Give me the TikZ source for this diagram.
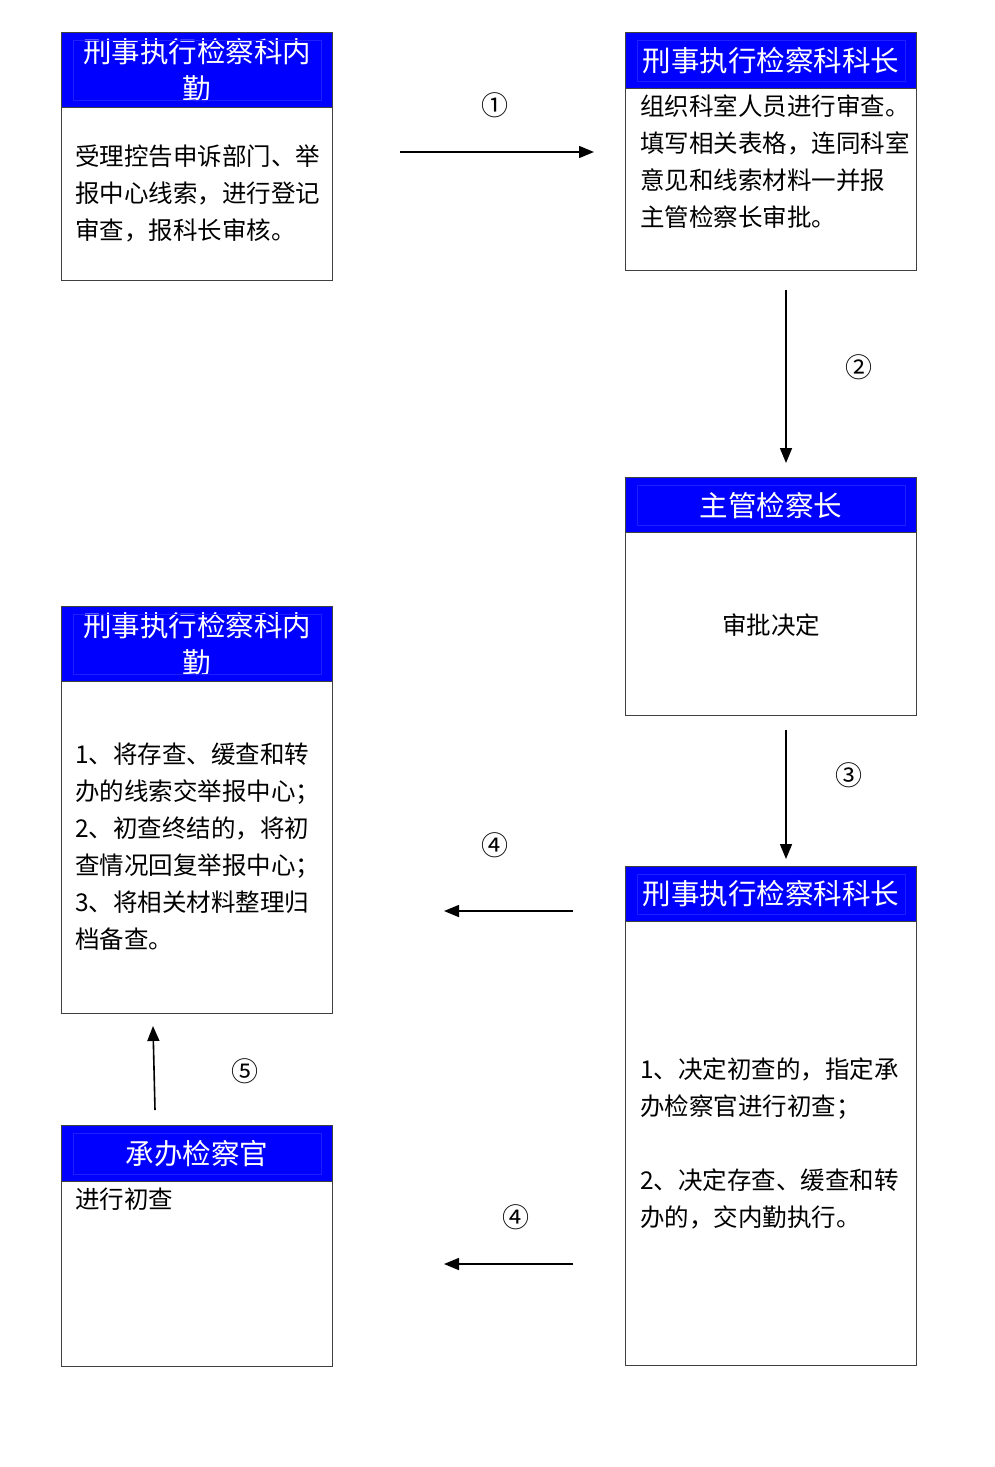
\documentclass[tikz,border=0pt]{standalone}
\usepackage{fontspec}
\setmainfont{Noto Sans CJK SC}
\usetikzlibrary{arrows.meta, positioning, calc}

\begin{document}
\begin{tikzpicture}[x=1pt, y=-1pt]
% Node styles
\tikzstyle{panel} = [rectangle, draw=black!75, line width=1.2pt, fill=white, anchor=north west, inner sep=0pt]
\tikzstyle{title} = [rectangle, draw=black!75, line width=1.2pt, fill=blue, text=white, anchor=north west, inner sep=0pt, align=center, font=\fontsize{28.5}{37}\selectfont]
\tikzstyle{body} = [anchor=north west, inner sep=0pt, align=left, font=\fontsize{24.5}{37}\selectfont]
\tikzstyle{cell} = [draw=blue!88!white, line width=0.25pt]
\tikzstyle{arrow} = [line width=1.6pt, ->, >={Triangle[length=15pt, width=12pt]}]
\tikzstyle{num} = [inner sep=0pt, font=\fontsize{27}{27}\selectfont]

\useasboundingbox (0,0) rectangle (994,1467);

% Boxes
\node[panel, minimum width=271pt, minimum height=248pt] (neiqin) at (61,32) {};
\node[title, minimum width=271pt, minimum height=75pt] (neiqinT) at (61,32) {刑事执行检察科内\\勤};
\node[body] (neiqinB) at (75,145) {受理控告申诉部门、举\\报中心线索，进行登记\\审查，报科长审核。};

\node[panel, minimum width=291pt, minimum height=238pt] (kezhang) at (625,32) {};
\node[title, minimum width=291pt, minimum height=56pt] (kezhangT) at (625,32) {刑事执行检察科科长};
\node[body] (kezhangB) at (640,94) {组织科室人员进行审查。\\填写相关表格，连同科室\\意见和线索材料一并报\\主管检察长审批。};

\node[panel, minimum width=291pt, minimum height=238pt] (jianchazhang) at (625,477) {};
\node[title, minimum width=291pt, minimum height=55pt] (jianchazhangT) at (625,477) {主管检察长};
\node[body, anchor=center] (jianchazhangB) at (771,625) {审批决定};

\node[panel, minimum width=271pt, minimum height=407pt] (neiqin2) at (61,606) {};
\node[title, minimum width=271pt, minimum height=75pt] (neiqin2T) at (61,606) {刑事执行检察科内\\勤};
\node[body] (neiqin2B) at (75,743) {1、将存查、缓查和转\\办的线索交举报中心；\\2、初查终结的，将初\\查情况回复举报中心；\\3、将相关材料整理归\\档备查。};

\node[panel, minimum width=291pt, minimum height=499pt] (kezhang2) at (625,866) {};
\node[title, minimum width=291pt, minimum height=55pt] (kezhang2T) at (625,866) {刑事执行检察科科长};
\node[body] (kezhang2B) at (640,1058) {1、决定初查的，指定承\\办检察官进行初查；\\[37pt]2、决定存查、缓查和转\\办的，交内勤执行。};

\node[panel, minimum width=271pt, minimum height=241pt] (jianchaguan) at (61,1125) {};
\node[title, minimum width=271pt, minimum height=56pt] (jianchaguanT) at (61,1125) {承办检察官};
\node[body] (jianchaguanB) at (75,1188) {进行初查};

% faint table lines in the headers
\foreach \h in {neiqinT, kezhangT, jianchazhangT, neiqin2T, kezhang2T, jianchaguanT}
  \draw[cell] ($(\h.north west)+(12,8)$) rectangle ($(\h.south east)+(-12,-8)$);

% Arrow ends
\coordinate (a1) at (400,152);   \coordinate (b1) at (594,152);
\coordinate (a2) at (786,290);   \coordinate (b2) at (786,463);
\coordinate (a3) at (786,730);   \coordinate (b3) at (786,859);
\coordinate (a4) at (573,911);   \coordinate (b4) at (444,911);
\coordinate (a5) at (573,1264);  \coordinate (b5) at (444,1264);
\coordinate (a6) at (155,1110);  \coordinate (b6) at (153,1026);

% Arrows
\draw [arrow] (a1) -- (b1);
\draw [arrow] (a2) -- (b2);
\draw [arrow] (a3) -- (b3);
\draw [arrow] (a4) -- (b4);
\draw [arrow] (a5) -- (b5);
\draw [arrow] (a6) -- (b6);

% Labels
\node[num] (n1) at (495,105) {①};
\node[num] (n2) at (859,367) {②};
\node[num] (n3) at (849,775) {③};
\node[num] (n4) at (495,845) {④};
\node[num] (n5) at (516,1217) {④};
\node[num] (n6) at (245,1071) {⑤};
\end{tikzpicture}
\end{document}
